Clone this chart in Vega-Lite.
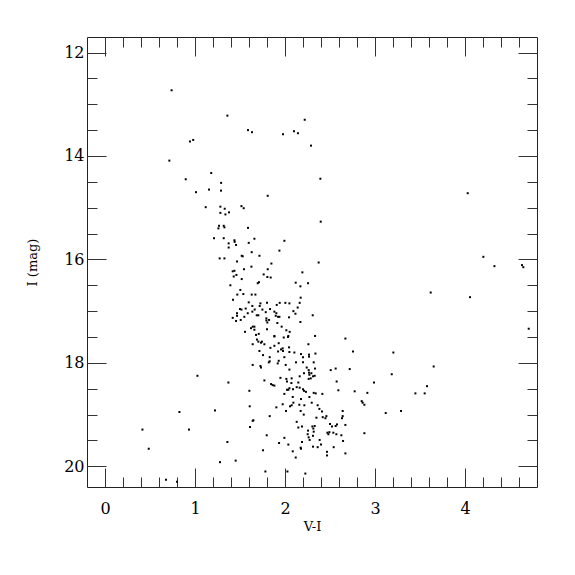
{
  "$schema": "https://vega.github.io/schema/vega-lite/v6.json",
  "width": 450,
  "height": 450,
  "autosize": {"type": "none"},
  "padding": {"left": 87, "top": 37, "right": 38, "bottom": 88},
  "background": "white",
  "config": {
    "view": {"stroke": "#222", "strokeWidth": 1},
    "axis": {"domain": false, "grid": false, "tickColor": "#333", "tickWidth": 1, "labelFont": "DejaVu Serif", "labelFontSize": 16, "labelColor": "#000", "titleFont": "DejaVu Serif", "titleFontSize": 13, "titleFontWeight": "normal", "titleColor": "#000", "labelOverlap": false, "labelFlush": false}
  },
  "data": {"values": [
    {"vi":0.74,"imag":12.73},{"vi":1.36,"imag":13.22},{"vi":0.944,"imag":13.72},{"vi":0.98,"imag":13.69},{"vi":0.715,"imag":14.09},{"vi":1.18,"imag":14.33},{"vi":0.897,"imag":14.45},{"vi":1.29,"imag":14.52},
    {"vi":1.589,"imag":13.50},{"vi":1.633,"imag":13.54},{"vi":1.978,"imag":13.58},{"vi":2.10,"imag":13.52},{"vi":2.144,"imag":13.56},{"vi":2.219,"imag":13.30},{"vi":2.289,"imag":13.80},{"vi":2.393,"imag":14.44},
    {"vi":1.011,"imag":14.70},{"vi":1.156,"imag":14.65},{"vi":1.289,"imag":14.67},{"vi":1.119,"imag":14.99},{"vi":1.282,"imag":14.98},{"vi":1.33,"imag":15.02},{"vi":1.282,"imag":15.10},{"vi":1.338,"imag":15.13},{"vi":1.378,"imag":15.09},{"vi":1.267,"imag":15.35},{"vi":1.26,"imag":15.40},{"vi":1.319,"imag":15.35},{"vi":1.327,"imag":15.38},{"vi":1.211,"imag":15.59},{"vi":1.319,"imag":15.59},{"vi":1.438,"imag":15.63},{"vi":1.441,"imag":15.66},{"vi":1.456,"imag":15.72},{"vi":1.374,"imag":15.69},{"vi":1.374,"imag":15.77},{"vi":1.274,"imag":15.98},{"vi":1.327,"imag":15.98},{"vi":1.467,"imag":16.04},{"vi":1.419,"imag":16.23},{"vi":1.438,"imag":16.22},{"vi":1.46,"imag":16.30},{"vi":1.43,"imag":16.33},{"vi":1.393,"imag":16.50},{"vi":1.47,"imag":16.68},{"vi":1.422,"imag":16.78},{"vi":1.467,"imag":17.04},{"vi":1.467,"imag":17.09},{"vi":1.419,"imag":17.13},{"vi":1.456,"imag":17.19},
    {"vi":1.808,"imag":14.77},{"vi":1.516,"imag":14.97},{"vi":1.541,"imag":15.01},{"vi":2.397,"imag":15.27},{"vi":1.589,"imag":15.39},{"vi":1.66,"imag":15.60},{"vi":1.597,"imag":15.68},{"vi":1.993,"imag":15.64},{"vi":1.938,"imag":15.83},{"vi":1.63,"imag":15.86},{"vi":1.519,"imag":15.93},{"vi":1.53,"imag":15.94},{"vi":1.716,"imag":15.93},{"vi":1.849,"imag":16.08},{"vi":2.374,"imag":16.06},{"vi":1.627,"imag":16.14},{"vi":1.544,"imag":16.19},{"vi":1.808,"imag":16.19},{"vi":2.193,"imag":16.25},{"vi":1.763,"imag":16.29},{"vi":1.804,"imag":16.34},{"vi":1.841,"imag":16.35},{"vi":1.519,"imag":16.38},{"vi":1.711,"imag":16.44},{"vi":1.697,"imag":16.46},{"vi":2.119,"imag":16.45},{"vi":2.256,"imag":16.46},{"vi":2.171,"imag":16.52},{"vi":1.504,"imag":16.59},{"vi":1.537,"imag":16.67},{"vi":1.63,"imag":16.68},{"vi":1.671,"imag":16.68},{"vi":2.174,"imag":16.74},{"vi":1.597,"imag":16.83},{"vi":1.727,"imag":16.85},{"vi":1.80,"imag":16.84},{"vi":1.941,"imag":16.84},{"vi":2.004,"imag":16.84},{"vi":2.049,"imag":16.85},{"vi":2.163,"imag":16.84},{"vi":1.637,"imag":16.90},{"vi":1.719,"imag":16.90},{"vi":1.908,"imag":16.88},{"vi":2.141,"imag":16.93},{"vi":1.50,"imag":16.96},{"vi":1.516,"imag":16.97},{"vi":1.563,"imag":16.95},{"vi":1.663,"imag":16.97},{"vi":1.749,"imag":16.97},{"vi":1.834,"imag":16.96},{"vi":1.882,"imag":17.01},{"vi":2.093,"imag":17.00},{"vi":1.586,"imag":17.04},{"vi":1.637,"imag":17.01},{"vi":1.786,"imag":17.02},{"vi":1.904,"imag":17.04},{"vi":2.116,"imag":17.05},{"vi":2.308,"imag":17.08},{"vi":1.548,"imag":17.11},{"vi":1.686,"imag":17.08},{"vi":1.704,"imag":17.08},{"vi":1.897,"imag":17.09},{"vi":1.923,"imag":17.11},{"vi":1.938,"imag":17.11},{"vi":2.045,"imag":17.12},{"vi":1.508,"imag":17.17},{"vi":1.793,"imag":17.14},{"vi":1.793,"imag":17.18},{"vi":1.823,"imag":17.17},{"vi":1.804,"imag":17.22},{"vi":2.171,"imag":17.21},{"vi":1.915,"imag":17.23},{"vi":1.641,"imag":17.30},{"vi":1.66,"imag":17.30},{"vi":1.622,"imag":17.33},{"vi":1.66,"imag":17.36},{"vi":1.963,"imag":17.30},{"vi":1.80,"imag":17.35},{"vi":2.015,"imag":17.37},{"vi":2.052,"imag":17.40},{"vi":1.556,"imag":17.40},{"vi":1.708,"imag":17.44},{"vi":1.678,"imag":17.46},{"vi":1.882,"imag":17.48},{"vi":2.037,"imag":17.48},{"vi":2.334,"imag":17.48},
    {"vi":4.03,"imag":14.72},{"vi":4.204,"imag":15.95},{"vi":4.327,"imag":16.13},{"vi":4.633,"imag":16.11},{"vi":4.648,"imag":16.15},{"vi":3.619,"imag":16.64},{"vi":4.056,"imag":16.73},{"vi":4.708,"imag":17.34},
    {"vi":1.027,"imag":18.25},{"vi":1.371,"imag":18.38},{"vi":0.827,"imag":18.95},{"vi":1.222,"imag":18.92},{"vi":0.416,"imag":19.29},{"vi":0.933,"imag":19.29},{"vi":1.36,"imag":19.53},{"vi":0.486,"imag":19.66},{"vi":1.278,"imag":19.92},{"vi":1.452,"imag":19.89},{"vi":0.678,"imag":20.26},{"vi":0.80,"imag":20.30},
    {"vi":1.641,"imag":17.64},{"vi":1.689,"imag":17.55},{"vi":1.704,"imag":17.59},{"vi":1.733,"imag":17.61},{"vi":1.744,"imag":17.59},{"vi":1.771,"imag":17.64},{"vi":1.882,"imag":17.49},{"vi":1.93,"imag":17.62},{"vi":1.986,"imag":17.51},{"vi":2.033,"imag":17.50},{"vi":2.26,"imag":17.64},{"vi":2.671,"imag":17.53},{"vi":1.838,"imag":17.71},{"vi":1.882,"imag":17.67},{"vi":1.956,"imag":17.74},{"vi":1.974,"imag":17.72},{"vi":1.978,"imag":17.77},{"vi":1.923,"imag":17.78},{"vi":2.045,"imag":17.70},{"vi":1.716,"imag":17.77},{"vi":2.049,"imag":17.79},{"vi":2.104,"imag":17.80},{"vi":2.178,"imag":17.83},{"vi":2.267,"imag":17.84},{"vi":2.267,"imag":17.88},{"vi":2.338,"imag":17.82},{"vi":2.756,"imag":17.78},{"vi":1.756,"imag":17.85},{"vi":1.83,"imag":17.89},{"vi":1.993,"imag":17.89},{"vi":2.20,"imag":17.89},{"vi":1.83,"imag":17.97},{"vi":1.82,"imag":17.99},{"vi":1.93,"imag":17.96},{"vi":1.919,"imag":18.01},{"vi":2.122,"imag":17.99},{"vi":2.20,"imag":17.99},{"vi":2.319,"imag":17.99},{"vi":1.641,"imag":18.04},{"vi":1.727,"imag":18.06},{"vi":1.733,"imag":18.09},{"vi":2.008,"imag":18.04},{"vi":2.049,"imag":18.13},{"vi":2.241,"imag":18.09},{"vi":2.263,"imag":18.14},{"vi":2.333,"imag":18.11},{"vi":2.508,"imag":18.14},{"vi":2.563,"imag":18.11},{"vi":2.719,"imag":18.12},{"vi":2.211,"imag":18.20},{"vi":2.267,"imag":18.19},{"vi":2.271,"imag":18.23},{"vi":2.293,"imag":18.20},{"vi":2.311,"imag":18.26},{"vi":2.33,"imag":18.25},{"vi":2.163,"imag":18.26},{"vi":2.263,"imag":18.31},{"vi":2.286,"imag":18.30},{"vi":1.949,"imag":18.29},{"vi":2.015,"imag":18.31},{"vi":2.022,"imag":18.36},{"vi":2.074,"imag":18.30},{"vi":1.771,"imag":18.34},{"vi":2.148,"imag":18.38},{"vi":2.071,"imag":18.39},{"vi":2.574,"imag":18.36},{"vi":2.989,"imag":18.38},{"vi":1.845,"imag":18.41},{"vi":1.863,"imag":18.43},{"vi":1.882,"imag":18.44},{"vi":2.13,"imag":18.47},{"vi":2.049,"imag":18.49},{"vi":2.037,"imag":18.52},{"vi":2.022,"imag":18.52},{"vi":2.089,"imag":18.51},{"vi":2.163,"imag":18.48},{"vi":2.20,"imag":18.51},{"vi":2.211,"imag":18.54},{"vi":2.233,"imag":18.56},{"vi":2.319,"imag":18.58},{"vi":2.341,"imag":18.59},{"vi":2.415,"imag":18.60},{"vi":1.993,"imag":18.60},{"vi":2.593,"imag":18.53},{"vi":2.774,"imag":18.55},{"vi":2.915,"imag":18.58},{"vi":1.604,"imag":18.54},{"vi":2.086,"imag":18.66},{"vi":2.178,"imag":18.70},{"vi":2.271,"imag":18.66},{"vi":2.852,"imag":18.74},{"vi":2.863,"imag":18.77},{"vi":2.882,"imag":18.81},{"vi":1.608,"imag":18.84},{"vi":1.904,"imag":18.86},{"vi":1.974,"imag":18.80},{"vi":2.056,"imag":18.84},{"vi":2.074,"imag":18.82},{"vi":2.093,"imag":18.77},{"vi":2.159,"imag":18.81},{"vi":2.215,"imag":18.82},{"vi":2.297,"imag":18.77},{"vi":2.363,"imag":18.82},{"vi":2.382,"imag":18.89},{"vi":2.411,"imag":18.94},{"vi":2.011,"imag":18.93},{"vi":2.174,"imag":18.93},{"vi":2.641,"imag":18.93},{"vi":3.119,"imag":18.97},{"vi":1.83,"imag":19.03},{"vi":2.208,"imag":19.00},{"vi":2.349,"imag":19.06},{"vi":2.419,"imag":19.05},{"vi":2.46,"imag":19.03},{"vi":2.449,"imag":19.07},{"vi":2.641,"imag":19.03},{"vi":2.633,"imag":19.07},{"vi":1.649,"imag":19.11},{"vi":1.641,"imag":19.12},{"vi":2.13,"imag":19.14},{"vi":1.611,"imag":19.24},{"vi":2.148,"imag":19.25},{"vi":2.189,"imag":19.23},{"vi":2.304,"imag":19.23},{"vi":2.33,"imag":19.22},{"vi":2.315,"imag":19.27},{"vi":2.50,"imag":19.18},{"vi":2.522,"imag":19.23},{"vi":2.578,"imag":19.19},{"vi":2.563,"imag":19.22},{"vi":2.671,"imag":19.20},{"vi":2.256,"imag":19.31},{"vi":2.319,"imag":19.33},{"vi":2.471,"imag":19.35},{"vi":2.482,"imag":19.38},{"vi":2.493,"imag":19.34},{"vi":2.537,"imag":19.35},{"vi":2.571,"imag":19.38},{"vi":2.626,"imag":19.40},{"vi":2.882,"imag":19.36},{"vi":1.797,"imag":19.40},{"vi":2.252,"imag":19.38},{"vi":2.263,"imag":19.44},{"vi":2.311,"imag":19.41},{"vi":1.993,"imag":19.45},{"vi":2.274,"imag":19.49},{"vi":2.385,"imag":19.49},{"vi":2.189,"imag":19.53},{"vi":2.645,"imag":19.51},{"vi":1.934,"imag":19.55},{"vi":2.037,"imag":19.58},{"vi":2.311,"imag":19.62},{"vi":2.363,"imag":19.63},{"vi":2.40,"imag":19.58},{"vi":2.174,"imag":19.64},{"vi":2.178,"imag":19.66},{"vi":2.541,"imag":19.63},{"vi":2.086,"imag":19.71},{"vi":2.467,"imag":19.72},{"vi":2.467,"imag":19.79},{"vi":2.671,"imag":19.75},{"vi":1.756,"imag":19.69},{"vi":2.119,"imag":19.83},{"vi":1.782,"imag":20.10},{"vi":2.027,"imag":20.10},{"vi":2.226,"imag":20.14},
    {"vi":3.204,"imag":17.80},{"vi":3.652,"imag":18.07},{"vi":3.186,"imag":18.22},{"vi":3.578,"imag":18.45},{"vi":3.449,"imag":18.59},{"vi":3.552,"imag":18.59},{"vi":3.289,"imag":18.93}
  ]},
  "layer": [
    {
      "mark": {"type": "point", "shape": "square", "size": 4, "filled": true, "color": "#000", "opacity": 1},
      "encoding": {
        "x": {"field": "vi", "type": "quantitative", "scale": {"domain": [-0.2, 4.8], "nice": false, "zero": false},
          "axis": {"orient": "bottom", "title": "V-I", "values": [0,0.2,0.4,0.6,0.8,1,1.2,1.4,1.6,1.8,2,2.2,2.4,2.6,2.8,3,3.2,3.4,3.6,3.8,4,4.2,4.4,4.6],
            "tickSize": {"condition": {"test": "abs(datum.value - round(datum.value)) < 0.001", "value": -19}, "value": -10},
            "labelExpr": "abs(datum.value - round(datum.value)) < 0.001 ? format(round(datum.value), 'd') : ''",
            "labelPadding": 32, "titleY": 33, "titleBaseline": "top"}},
        "y": {"field": "imag", "type": "quantitative", "scale": {"domain": [11.7, 20.4], "nice": false, "zero": false, "reverse": true},
          "axis": {"orient": "left", "title": "I (mag)", "values": [12,12.5,13,13.5,14,14.5,15,15.5,16,16.5,17,17.5,18,18.5,19,19.5,20],
            "tickSize": {"condition": {"test": "datum.value % 2 === 0", "value": -19}, "value": -10},
            "labelExpr": "datum.value % 2 === 0 ? format(datum.value, 'd') : ''",
            "labelPadding": 22, "titlePadding": 24}}
      }
    },
    {
      "mark": {"type": "point", "shape": "square", "size": 4, "filled": true, "color": "#000", "opacity": 0},
      "encoding": {
        "x": {"field": "vi", "type": "quantitative", "scale": {"domain": [-0.2, 4.8], "nice": false, "zero": false},
          "axis": {"orient": "top", "title": null, "labels": false, "values": [0,0.2,0.4,0.6,0.8,1,1.2,1.4,1.6,1.8,2,2.2,2.4,2.6,2.8,3,3.2,3.4,3.6,3.8,4,4.2,4.4,4.6],
            "tickSize": {"condition": {"test": "abs(datum.value - round(datum.value)) < 0.001", "value": -19}, "value": -10}}},
        "y": {"field": "imag", "type": "quantitative", "scale": {"domain": [11.7, 20.4], "nice": false, "zero": false, "reverse": true},
          "axis": {"orient": "right", "title": null, "labels": false, "values": [12,12.5,13,13.5,14,14.5,15,15.5,16,16.5,17,17.5,18,18.5,19,19.5,20],
            "tickSize": {"condition": {"test": "datum.value % 2 === 0", "value": -19}, "value": -10}}}
      }
    }
  ],
  "resolve": {"axis": {"x": "independent", "y": "independent"}}
}
